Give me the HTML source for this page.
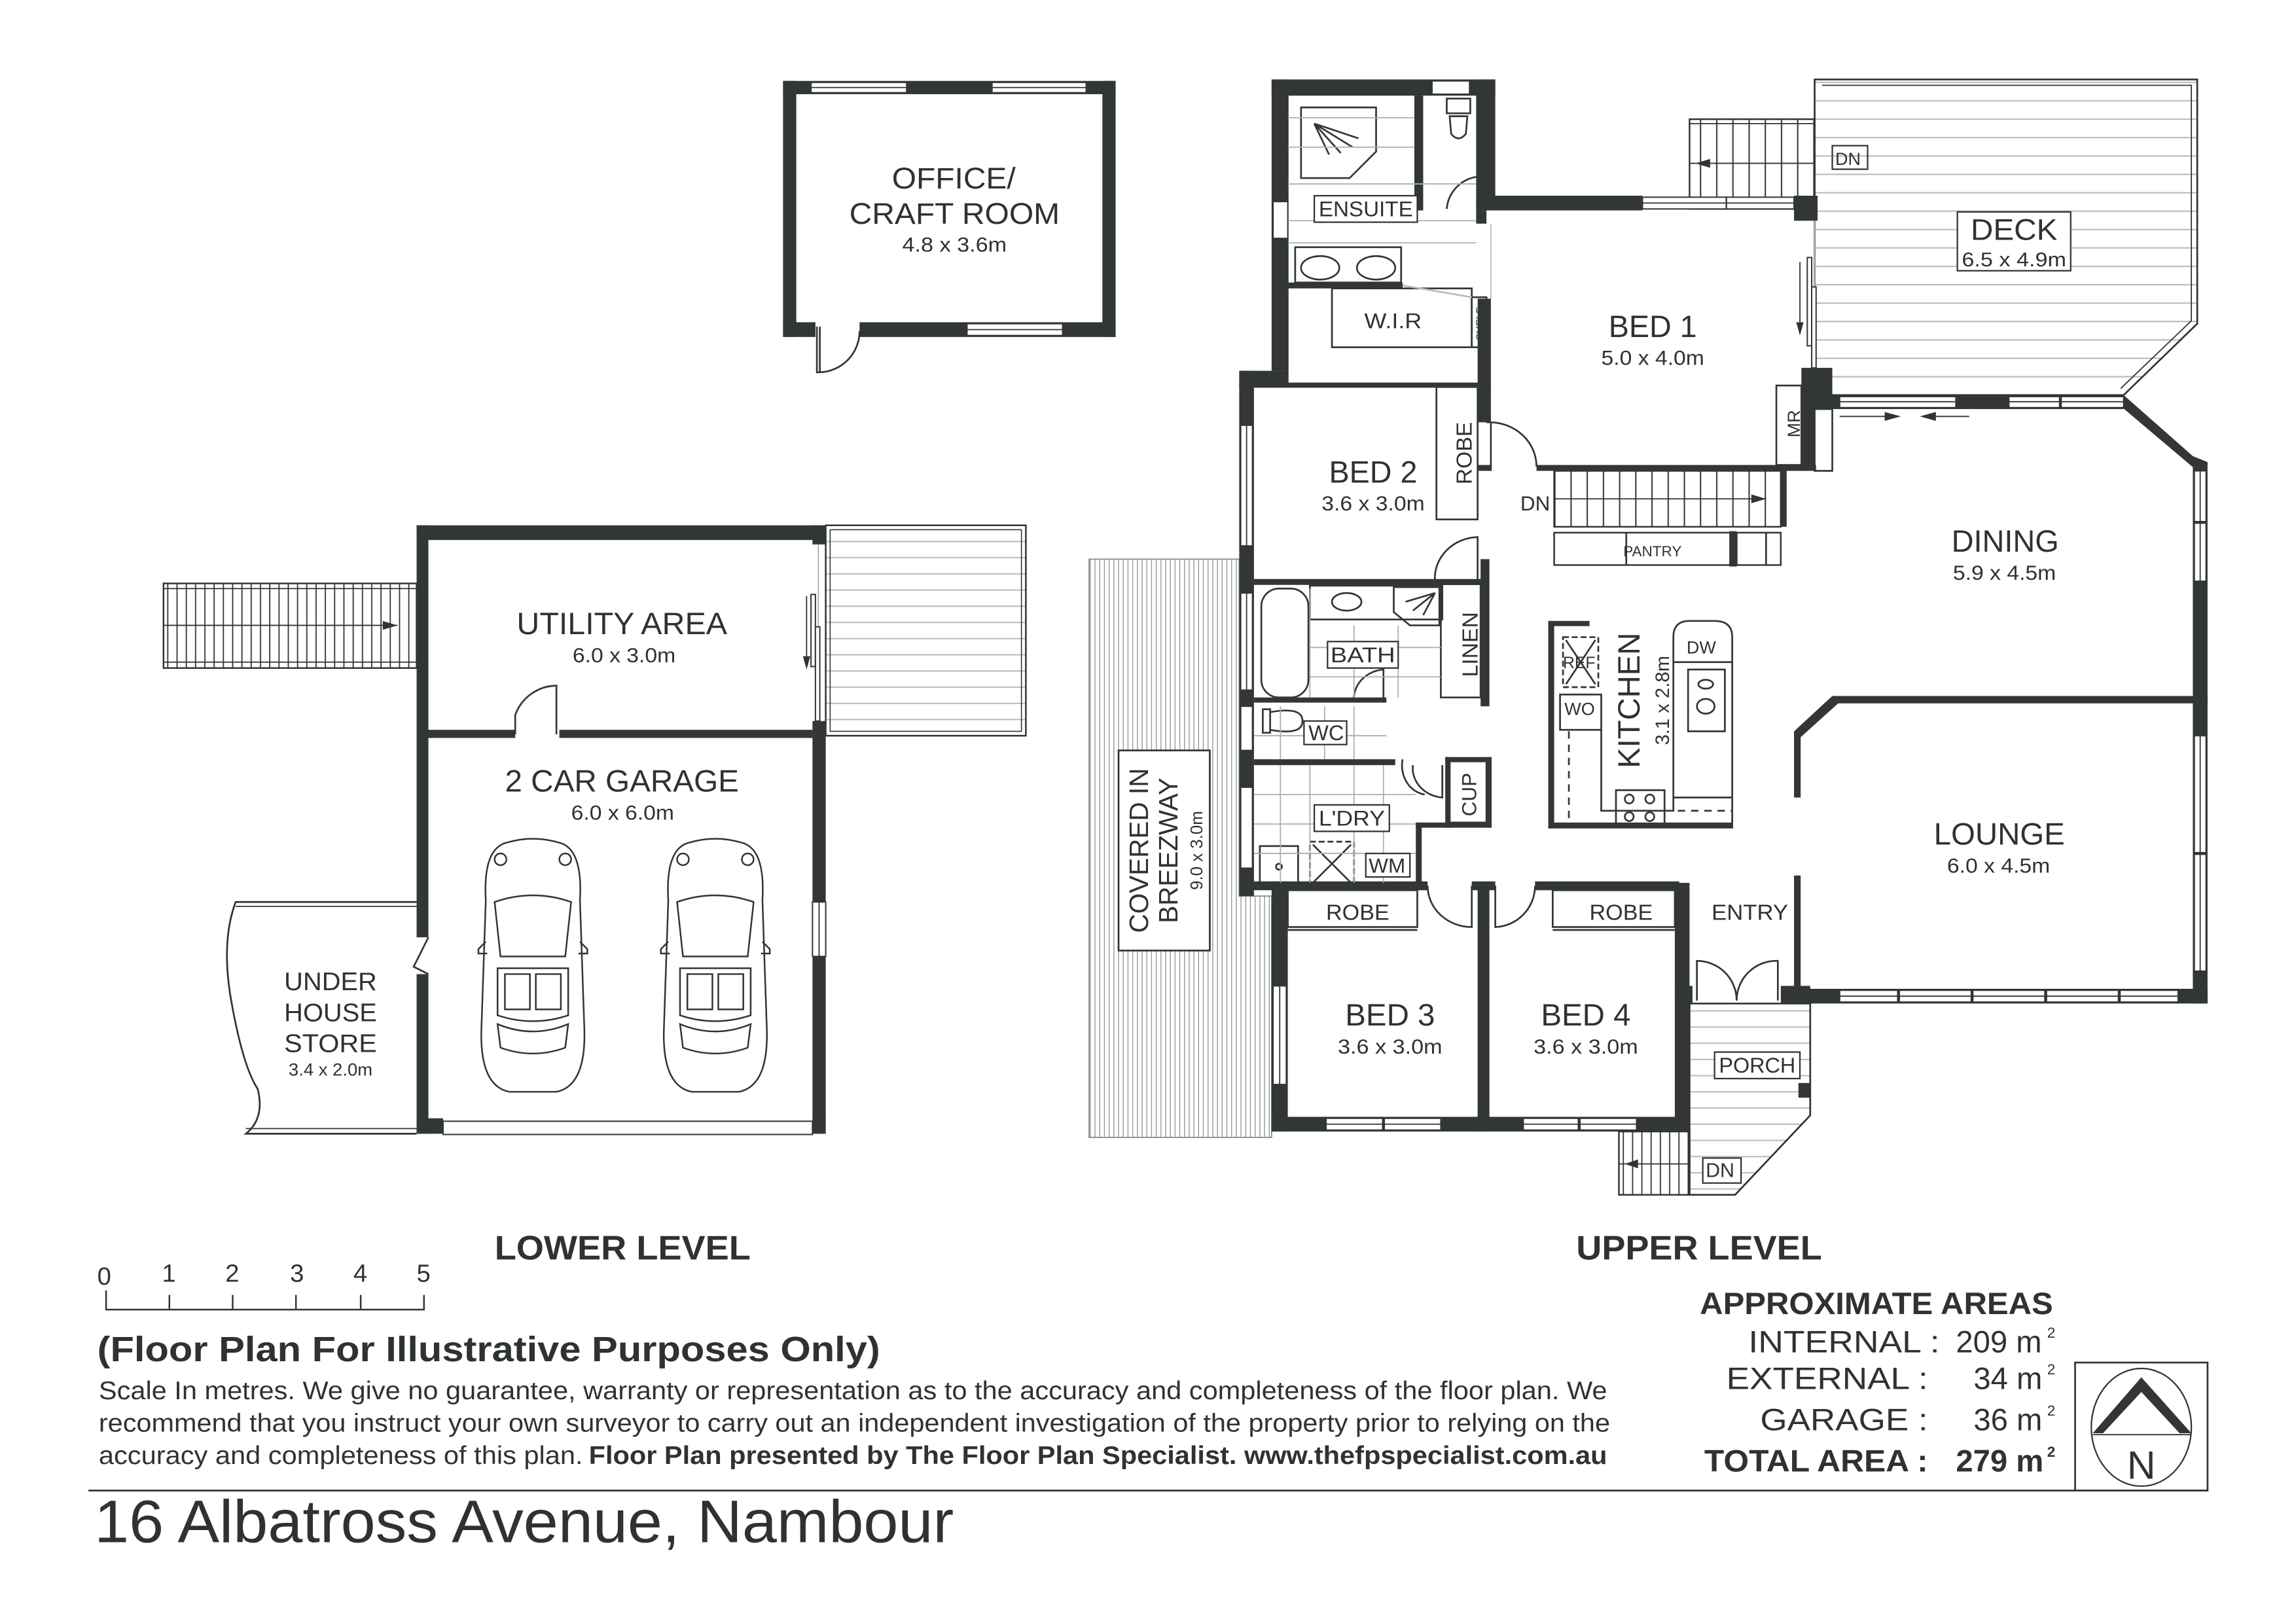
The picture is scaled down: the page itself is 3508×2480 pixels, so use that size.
<!DOCTYPE html>
<html><head><meta charset="utf-8"><style>
html,body{margin:0;padding:0;background:#fff}
svg{display:block}
text{font-family:"Liberation Sans",Arial,sans-serif;fill:#2f3233}
.k{fill:#333637}
.t{fill:none;stroke:#333637;stroke-width:1.2}
.g{fill:none;stroke:#aab0b0;stroke-width:0.8}
.win{fill:#fff;stroke:#333637;stroke-width:0.9}
</style></head><body>
<svg width="3508" height="2480" viewBox="0 0 1560 1103" xmlns="http://www.w3.org/2000/svg">
<defs>
<pattern id="hz" width="8" height="12.5" patternUnits="userSpaceOnUse"><line x1="0" y1="6" x2="8" y2="6" stroke="#b5bbbb" stroke-width="0.9"/></pattern>
<pattern id="hz2" width="8" height="11" patternUnits="userSpaceOnUse"><line x1="0" y1="5" x2="8" y2="5" stroke="#b5bbbb" stroke-width="0.9"/></pattern>
<pattern id="vt" width="3.2" height="8" patternUnits="userSpaceOnUse"><line x1="1.6" y1="0" x2="1.6" y2="8" stroke="#8f9696" stroke-width="0.6"/></pattern>
<pattern id="st" width="11" height="8" patternUnits="userSpaceOnUse"><line x1="0.5" y1="0" x2="0.5" y2="8" stroke="#333" stroke-width="0.9"/></pattern>
<pattern id="st6" width="6.3" height="8" patternUnits="userSpaceOnUse"><line x1="0.5" y1="0" x2="0.5" y2="8" stroke="#333" stroke-width="0.8"/></pattern>
</defs>
<rect width="1560" height="1103" fill="#fff"/>

<!-- ============ OFFICE ============ -->
<g class="k">
<rect x="532" y="55" width="226" height="9"/>
<rect x="532" y="55" width="9" height="174"/>
<rect x="749" y="55" width="9" height="174"/>
<rect x="532" y="219" width="22" height="10"/>
<rect x="584" y="219" width="174" height="10"/>
</g>
<rect x="551" y="56" width="65" height="7" class="win"/><line x1="551" y1="59.5" x2="616" y2="59.5" stroke="#333" stroke-width="0.8"/>
<rect x="674" y="56" width="64" height="7" class="win"/><line x1="674" y1="59.5" x2="738" y2="59.5" stroke="#333" stroke-width="0.8"/>
<rect x="657" y="220" width="65" height="8" class="win"/><line x1="657" y1="224" x2="722" y2="224" stroke="#333" stroke-width="0.8"/>
<path d="M555 222 L555 253 L557 253 L557 222 M557 253 A28 28 0 0 0 584 225" class="t"/>
<text x="606" y="128" font-size="20" textLength="84" lengthAdjust="spacingAndGlyphs">OFFICE/</text>
<text x="577" y="152" font-size="20" textLength="143" lengthAdjust="spacingAndGlyphs">CRAFT ROOM</text>
<text x="613" y="171" font-size="14" textLength="71" lengthAdjust="spacingAndGlyphs">4.8 x 3.6m</text>

<!-- ============ LOWER LEVEL ============ -->
<rect x="111" y="396.5" width="172" height="57.5" fill="url(#st6)" stroke="#333" stroke-width="1.1"/>
<line x1="111" y1="400" x2="283" y2="400" stroke="#333" stroke-width="0.8"/><line x1="111" y1="450" x2="283" y2="450" stroke="#333" stroke-width="0.8"/>
<line x1="111" y1="425" x2="270" y2="425" stroke="#333" stroke-width="0.8"/><path d="M270 425 l-10 -3 v6 z" fill="#333"/>
<rect x="561" y="357" width="136" height="143" fill="url(#hz2)" stroke="#333" stroke-width="1.1"/>
<rect x="564" y="360" width="130" height="137" fill="none" stroke="#333" stroke-width="0.7"/>
<g class="k">
<rect x="283" y="357" width="278" height="10"/>
<rect x="283" y="357" width="8" height="280"/>
<rect x="283" y="662" width="8" height="108.5"/>
<rect x="552" y="357" width="9" height="13"/>
<rect x="552" y="490" width="9" height="280.5"/>
<rect x="291" y="496" width="59" height="5.5"/>
<rect x="380" y="496" width="172" height="5.5"/>
<rect x="283" y="760" width="18" height="10.5"/>
<rect x="552" y="760" width="9" height="10.5"/>
</g>
<rect x="301" y="762" width="251" height="9" class="win"/>
<line x1="556" y1="370" x2="556" y2="490" stroke="#aaa" stroke-width="0.8"/>
<rect x="551" y="404" width="3" height="49" class="win"/><rect x="554" y="426" width="3" height="64" class="win"/>
<line x1="548" y1="405" x2="548" y2="452" stroke="#333" stroke-width="0.8"/><path d="M548 455 l-2.5 -9 h5 z" fill="#333"/>
<rect x="552" y="613" width="9" height="37" class="win"/><line x1="556.5" y1="613" x2="556.5" y2="650" stroke="#333" stroke-width="0.8"/>
<path d="M350 499 L350 486 A30 30 0 0 1 378 466 L378 499" class="t"/>
<path d="M291 637 L281 657 L291 662" class="t"/>
<path d="M283 613 L160 613 Q150 640 157 680 Q165 725 175 740 Q180 760 167 770.5 L283 770.5" fill="none" stroke="#333" stroke-width="1.2"/>
<line x1="160" y1="616" x2="283" y2="616" stroke="#333" stroke-width="0.8"/><line x1="167" y1="767" x2="283" y2="767" stroke="#333" stroke-width="0.8"/>
<text x="351" y="431" font-size="21" textLength="143" lengthAdjust="spacingAndGlyphs">UTILITY AREA</text>
<text x="389" y="450" font-size="14" textLength="70" lengthAdjust="spacingAndGlyphs">6.0 x 3.0m</text>
<text x="343" y="538" font-size="21" textLength="159" lengthAdjust="spacingAndGlyphs">2 CAR GARAGE</text>
<text x="388" y="557" font-size="14" textLength="70" lengthAdjust="spacingAndGlyphs">6.0 x 6.0m</text>
<text x="193" y="673" font-size="17.5" textLength="63" lengthAdjust="spacingAndGlyphs">UNDER</text>
<text x="193" y="694" font-size="17.5" textLength="63" lengthAdjust="spacingAndGlyphs">HOUSE</text>
<text x="193" y="715" font-size="17.5" textLength="63" lengthAdjust="spacingAndGlyphs">STORE</text>
<text x="196" y="731" font-size="12" textLength="57" lengthAdjust="spacingAndGlyphs">3.4 x 2.0m</text>
<!-- cars -->
<g id="car" fill="none" stroke="#333" stroke-width="1.1">
<path d="M330 612 Q328 578 343 573 Q362 567 381 573 Q396 578 394 612 L397 700 Q398 738 378 742 L346 742 Q326 738 327 700 Z"/>
<path d="M336 613 Q362 604 388 613 L384 650 L340 650 Z"/>
<path d="M338 658 L386 658 L386 690 Q362 698 338 690 Z"/>
<path d="M343 662 h17 v24 h-17 z M364 662 h17 v24 h-17 z"/>
<path d="M338 696 Q362 706 386 696 L384 712 Q362 720 340 712 Z"/>
<path d="M330 640 l-5 5 v3 h6 M394 640 l5 5 v3 h-6"/>
<circle cx="340" cy="584" r="4"/><circle cx="384" cy="584" r="4"/>
</g>
<use href="#car" x="124"/>

<!-- ============ UPPER LEVEL ============ -->
<!-- breezeway -->
<path d="M740 380 L842 380 L842 609 L864 609 L864 773 L740 773 Z" fill="url(#vt)" stroke="#888" stroke-width="0.8"/>
<rect x="760" y="510" width="62" height="136" fill="#fff" stroke="#333" stroke-width="1.2"/>
<text transform="translate(780,578) rotate(-90)" font-size="18" text-anchor="middle">COVERED IN</text>
<text transform="translate(800,578) rotate(-90)" font-size="18" text-anchor="middle">BREEZWAY</text>
<text transform="translate(817,578) rotate(-90)" font-size="11.5" text-anchor="middle">9.0 x 3.0m</text>

<!-- deck -->
<path d="M1233 54 L1493 54 L1493 220 L1443 268.5 L1233 268.5 Z" fill="url(#hz)" stroke="#333" stroke-width="1.2"/>
<path d="M1238 58 L1489 58 L1489 218 L1441 264" fill="none" stroke="#333" stroke-width="0.8"/>
<rect x="1148" y="81" width="85" height="61" fill="url(#st)" stroke="#333" stroke-width="1.1"/>
<line x1="1148" y1="84" x2="1233" y2="84" stroke="#333" stroke-width="0.8"/>
<line x1="1148" y1="111" x2="1233" y2="111" stroke="#333" stroke-width="0.8"/><path d="M1152 111 l10 -3 v6 z" fill="#333"/>
<text x="1247" y="112" font-size="12">DN</text><rect x="1245" y="99" width="24" height="16" fill="none" stroke="#333"/>
<rect x="1330" y="144" width="77" height="40" fill="#fff" stroke="#333"/>
<text x="1339" y="163" font-size="20" textLength="59" lengthAdjust="spacingAndGlyphs">DECK</text>
<text x="1333" y="181" font-size="13.5" textLength="71" lengthAdjust="spacingAndGlyphs">6.5 x 4.9m</text>

<!-- stairs DN from hall -->
<rect x="1056" y="320" width="154" height="38" fill="url(#st)" stroke="#333" stroke-width="1.1"/>
<line x1="1056" y1="339" x2="1200" y2="339" stroke="#333" stroke-width="0.8"/><path d="M1200 339 l-10 -3 v6 z" fill="#333"/>
<rect x="1056" y="362" width="154" height="22" fill="#fff" stroke="#333" stroke-width="1.1"/>
<path d="M1105 362 v22 M1180 362 v22 M1200 362 v22" class="t"/>
<rect x="1175" y="361" width="5" height="24" class="k"/>

<!-- walls -->
<g class="k">
<!-- ensuite -->
<rect x="864" y="54" width="152" height="11"/>
<rect x="864" y="54" width="11.5" height="198"/>
<rect x="1003" y="54" width="13" height="89"/>
<rect x="961" y="65" width="6" height="78"/>
<rect x="875" y="192" width="78" height="4"/>
<!-- bed1 -->
<rect x="1003" y="133" width="113" height="10"/>
<rect x="1219" y="133" width="16" height="17"/>
<rect x="1003" y="143" width="7" height="9"/>
<rect x="1004" y="203" width="9" height="84"/>
<rect x="1004" y="316" width="9" height="4"/>
<rect x="1044" y="316" width="190" height="4"/>
<rect x="1224" y="250" width="21" height="28"/>
<rect x="1224" y="268" width="9" height="49"/>
<rect x="1210" y="320" width="4" height="38"/>
<!-- bed2 -->
<rect x="842" y="252" width="33.5" height="11"/>
<rect x="842" y="260" width="171" height="3.5"/>
<rect x="842" y="252" width="10" height="357"/>
<rect x="842" y="393.5" width="166" height="4"/>
<rect x="1006" y="380" width="6" height="100"/>
<!-- bath/wc/ldry -->
<rect x="852" y="474" width="90" height="3.5"/>
<rect x="852" y="516" width="96" height="4"/>
<rect x="962" y="559" width="23" height="3.5"/>
<rect x="962" y="559" width="4" height="42"/>
<rect x="982" y="514.5" width="31" height="3.5"/>
<rect x="1010" y="514.5" width="3.5" height="48"/>
<rect x="982" y="559" width="31" height="3.5"/>
<rect x="982" y="514.5" width="3.5" height="48"/>
<!-- bed3/4 -->
<rect x="842" y="599" width="128" height="6"/>
<rect x="1000" y="599" width="16" height="6"/>
<rect x="1043" y="599" width="98" height="6"/>
<rect x="864" y="599" width="11" height="170"/>
<rect x="864" y="759" width="284" height="10"/>
<rect x="1004" y="600" width="8" height="169"/>
<rect x="1138" y="600" width="10" height="169"/>
<rect x="1138" y="670" width="12" height="12"/>
<rect x="1210" y="670" width="20" height="12"/>
<!-- lounge/dining -->
<rect x="1219" y="497" width="4.5" height="45"/>
<rect x="1219" y="595" width="4.5" height="87"/>
<rect x="1245" y="473" width="255" height="5"/>
<rect x="1490" y="314" width="10" height="368"/>
<rect x="1219" y="672" width="281" height="10"/>
<rect x="1233" y="268.5" width="210" height="9.5"/>
<!-- kitchen -->
<rect x="1052" y="422" width="4" height="141"/>
<rect x="1052" y="422" width="28" height="3.5"/>
<rect x="1052" y="559" width="125" height="4"/>
</g>
<path d="M1219 497 L1245 473 L1249 478 L1223.5 501 Z" class="k"/>
<path d="M1443 268.5 L1490 310 L1500 314 L1493 320 L1441 276 Z" class="k"/>
<!-- windows -->
<g>
<rect x="973" y="55" width="25.5" height="9" class="win"/>
<rect x="1116" y="134" width="103" height="8" class="win"/><line x1="1116" y1="138" x2="1219" y2="138" stroke="#333" stroke-width="0.8"/><line x1="1173" y1="134" x2="1173" y2="142" stroke="#333"/>
<rect x="865" y="137" width="10" height="25" class="win"/>
<rect x="843" y="289" width="8" height="82" class="win"/><line x1="847" y1="289" x2="847" y2="371" stroke="#333" stroke-width="0.8"/>
<rect x="843" y="403" width="8" height="66" class="win"/><line x1="847" y1="403" x2="847" y2="469" stroke="#333" stroke-width="0.8"/>
<rect x="843" y="480" width="8" height="30" class="win"/>
<rect x="843" y="535" width="8" height="55" class="win"/>
<rect x="865" y="670" width="9" height="67" class="win"/><line x1="869.5" y1="670" x2="869.5" y2="737" stroke="#333" stroke-width="0.8"/>
<rect x="901" y="760" width="78" height="8" class="win"/><line x1="901" y1="764" x2="979" y2="764" stroke="#333" stroke-width="0.8"/><line x1="940" y1="760" x2="940" y2="768" stroke="#333" stroke-width="2"/>
<rect x="1035" y="760" width="77" height="8" class="win"/><line x1="1035" y1="764" x2="1112" y2="764" stroke="#333" stroke-width="0.8"/><line x1="1073" y1="760" x2="1073" y2="768" stroke="#333" stroke-width="2"/>
<rect x="1250" y="269.5" width="79" height="7.5" class="win"/><line x1="1250" y1="273" x2="1329" y2="273" stroke="#333" stroke-width="0.8"/>
<rect x="1365" y="269.5" width="78" height="7.5" class="win"/><line x1="1365" y1="273" x2="1443" y2="273" stroke="#333" stroke-width="0.8"/><line x1="1400" y1="269" x2="1400" y2="278" stroke="#333" stroke-width="2"/>
<rect x="1491" y="320" width="8" height="75" class="win"/><line x1="1495" y1="320" x2="1495" y2="395" stroke="#333" stroke-width="0.8"/><line x1="1491" y1="355" x2="1499" y2="355" stroke="#333" stroke-width="2"/>
<rect x="1491" y="500" width="8" height="160" class="win"/><line x1="1495" y1="500" x2="1495" y2="660" stroke="#333" stroke-width="0.8"/><line x1="1491" y1="580" x2="1499" y2="580" stroke="#333" stroke-width="2"/>
<rect x="1250" y="673" width="230" height="8" class="win"/><line x1="1250" y1="677" x2="1480" y2="677" stroke="#333" stroke-width="0.8"/>
<path d="M1290 673 v8 M1340 673 v8 M1390 673 v8 M1440 673 v8" stroke="#333" stroke-width="2"/>
<line x1="1233" y1="150" x2="1233" y2="250" stroke="#bbb" stroke-width="0.8"/>
<rect x="1228" y="175" width="3" height="60" class="win"/><rect x="1231" y="195" width="3" height="55" class="win"/>
<line x1="1223" y1="178" x2="1223" y2="225" stroke="#333" stroke-width="0.8"/><path d="M1223 228 l-2.5 -9 h5 z" fill="#333"/>
<path d="M1250 283 h40 M1290 283 l-9 -2.5 v5 z M1338 283 h-32 M1306 283 l9 -2.5 v5 z" stroke="#333" stroke-width="0.8" fill="#333"/>
<line x1="1013" y1="152" x2="1013" y2="203" stroke="#bbb" stroke-width="0.8"/>
</g>
<!-- porch -->
<path d="M1148 682 L1230 682 L1230 758 L1179 812 L1148 812 Z" fill="url(#hz2)" stroke="#333" stroke-width="1.2"/>
<rect x="1222" y="736" width="8" height="10" class="k"/>
<rect x="1100" y="769" width="48" height="43" fill="url(#st6)" stroke="#333" stroke-width="1.1"/>
<line x1="1100" y1="791" x2="1148" y2="791" stroke="#333" stroke-width="0.8"/><path d="M1104 791 l9 -3 v6 z" fill="#333"/>
<rect x="1157" y="787" width="26" height="17" fill="#fff" stroke="#333"/>
<text x="1159" y="800" font-size="13.5">DN</text>
<rect x="1165" y="715" width="58" height="18" fill="#fff" stroke="#333"/>
<text x="1168" y="729" font-size="14.5" textLength="52" lengthAdjust="spacingAndGlyphs">PORCH</text>

<!-- fixtures -->
<g class="t">
<path d="M1010 287 L1013 287 L1013 320 M1013 287 A32 30 0 0 1 1044 317"/>
<path d="M975 395 A30 28 0 0 1 1004 365 L1004 395"/>
<path d="M970 602 A30 28 0 0 0 1000 630 L1000 602"/>
<path d="M1043 602 A28 28 0 0 1 1016 630 L1016 602"/>
<path d="M1153 680 L1153 653 A27 27 0 0 1 1180 680 M1208 680 L1208 653 A27 27 0 0 0 1180 680"/>
<path d="M983 142 A24 24 0 0 1 1005 120 L1005 142"/>
<path d="M920 477 A22 20 0 0 1 940 455 L940 477"/>
<path d="M953 516 A18 20 0 0 0 968 540"/>
<path d="M960 520 A22 20 0 0 0 980 542 L980 520"/>
<path d="M884 73 L935 73 L935 103 L917 121 L884 121 Z" />
<path d="M893 84 l30 10 M893 84 l26 16 M893 84 l18 20 M893 84 l10 21"/>
<rect x="983" y="67" width="16" height="10"/><path d="M985 79 h12 l-1 12 q-5 6 -10 0 z"/>
<rect x="880" y="168" width="72" height="24"/>
<ellipse cx="897" cy="182" rx="13" ry="8"/><ellipse cx="935" cy="182" rx="13" ry="8"/>
<rect x="905" y="196" width="95" height="40"/><rect x="1000" y="202" width="10" height="34"/>
<line x1="953" y1="194" x2="1000" y2="202" stroke="#bbb"/>
<rect x="976" y="263" width="28" height="90"/>
<rect x="979" y="397" width="27" height="77"/>
<rect x="857" y="400" width="32" height="74" rx="12"/>
<rect x="890" y="398" width="90" height="23"/>
<ellipse cx="915" cy="409" rx="10" ry="6"/>
<path d="M947 399 L978 399 L978 425 L958 425 L947 416 Z"/>
<path d="M975 403 l-20 6 M975 403 l-15 12 M975 403 l-8 15"/>
<path d="M858 482 h5 v16 h-5 z M863 484 q22 -4 22 6 q0 10 -22 6 z"/>
<rect x="985" y="517" width="25" height="42"/>
<rect x="856" y="575" width="26" height="28"/><circle cx="869" cy="589" r="2"/>
<rect x="890" y="572" width="30" height="30" stroke-dasharray="4 2"/><path d="M892 574 l26 26 M918 574 l-26 26"/>
<rect x="875" y="605" width="88" height="25"/><line x1="875" y1="632" x2="963" y2="632"/>
<rect x="1055" y="605" width="83" height="25"/><line x1="1055" y1="632" x2="1138" y2="632"/>
<rect x="1062" y="433" width="24" height="34" stroke-dasharray="4 2"/><path d="M1064 435 l20 30 M1084 435 l-20 30"/>
<rect x="1060" y="472" width="28" height="24"/>
<path d="M1088 496 L1088 551 L1137 551 L1137 433 Q1137 422 1148 422 L1165 422 Q1177 422 1177 433 L1177 563"/>
<path d="M1137 450 L1177 450 M1137 542 L1177 542"/>
<rect x="1147" y="455" width="25" height="42"/>
<ellipse cx="1159" cy="465" rx="5" ry="3"/><ellipse cx="1159" cy="480" rx="6" ry="5"/>
<rect x="1098" y="537" width="33" height="24"/>
<circle cx="1107" cy="543" r="3"/><circle cx="1121" cy="543" r="3"/><circle cx="1107" cy="555" r="3"/><circle cx="1121" cy="555" r="3"/>
<path d="M1066 497 L1066 560 M1140 551 L1177 551" stroke-dasharray="5 4"/>
<rect x="1207" y="262" width="17" height="54"/>
<rect x="1233" y="278" width="12" height="42"/>
</g>
<!-- tile grid hints -->
<g class="g">
<path d="M875 80 H961 M875 100 H961 M875 125 H1003 M875 150 H1003 M875 165 H1003"/>
<path d="M890 400 V474 M920 425 V474 M950 425 V474 M890 440 H979 M890 460 H979"/>
<path d="M870 480 V516 M900 480 V516 M920 480 V516 M852 500 H942"/>
<path d="M870 520 V600 M890 520 V600 M920 520 V600 M940 520 V600 M852 540 H962 M852 560 H962 M852 580 H962"/>
</g>
<!-- labels -->
<rect x="893" y="133" width="70" height="18" fill="#fff" stroke="#333"/>
<text x="896" y="147" font-size="14.5" textLength="64" lengthAdjust="spacingAndGlyphs">ENSUITE</text>
<text x="927" y="223" font-size="14.5" textLength="39" lengthAdjust="spacingAndGlyphs">W.I.R</text>
<text transform="translate(1008,220) rotate(-90)" font-size="7" text-anchor="middle">SHELF</text>
<text x="1093" y="229" font-size="21" textLength="60" lengthAdjust="spacingAndGlyphs">BED 1</text>
<text x="1088" y="248" font-size="14" textLength="70" lengthAdjust="spacingAndGlyphs">5.0 x 4.0m</text>
<text transform="translate(1223,288) rotate(-90)" font-size="12" text-anchor="middle">MR</text>
<text x="903" y="328" font-size="21" textLength="60" lengthAdjust="spacingAndGlyphs">BED 2</text>
<text x="898" y="347" font-size="14" textLength="70" lengthAdjust="spacingAndGlyphs">3.6 x 3.0m</text>
<text transform="translate(995,308) rotate(-90)" font-size="15" text-anchor="middle" dy="5">ROBE</text>
<text x="1033" y="347" font-size="14">DN</text>
<text x="1103" y="378" font-size="10">PANTRY</text>
<text x="1326" y="375" font-size="21" textLength="73" lengthAdjust="spacingAndGlyphs">DINING</text>
<text x="1327" y="394" font-size="14" textLength="70" lengthAdjust="spacingAndGlyphs">5.9 x 4.5m</text>
<rect x="902" y="436" width="48" height="18" fill="#fff" stroke="#333"/>
<text x="904" y="450" font-size="14.5" textLength="44" lengthAdjust="spacingAndGlyphs">BATH</text>
<text transform="translate(1000,438) rotate(-90)" font-size="15" text-anchor="middle" dy="4">LINEN</text>
<text transform="translate(1114,476) rotate(-90)" font-size="21" text-anchor="middle">KITCHEN</text>
<text transform="translate(1134,476) rotate(-90)" font-size="13" text-anchor="middle">3.1 x 2.8m</text>
<text x="1146" y="444" font-size="12">DW</text>
<text x="1062" y="454" font-size="11">REF</text>
<text x="1063" y="486" font-size="12">WO</text>
<rect x="886" y="490" width="29" height="16" fill="#fff" stroke="#333"/>
<text x="889" y="503" font-size="14.5">WC</text>
<text transform="translate(1003,540) rotate(-90)" font-size="14" text-anchor="middle">CUP</text>
<rect x="893" y="547" width="51" height="18" fill="#fff" stroke="#333"/>
<text x="896" y="561" font-size="14.5" textLength="45" lengthAdjust="spacingAndGlyphs">L'DRY</text>
<rect x="928" y="580" width="30" height="16" fill="#fff" stroke="#333"/>
<text x="930" y="593" font-size="14">WM</text>
<text x="901" y="625" font-size="15" textLength="43" lengthAdjust="spacingAndGlyphs">ROBE</text>
<text x="1080" y="625" font-size="15" textLength="43" lengthAdjust="spacingAndGlyphs">ROBE</text>
<text x="1163" y="625" font-size="15" textLength="52" lengthAdjust="spacingAndGlyphs">ENTRY</text>
<text x="1314" y="574" font-size="21" textLength="89" lengthAdjust="spacingAndGlyphs">LOUNGE</text>
<text x="1323" y="593" font-size="14" textLength="70" lengthAdjust="spacingAndGlyphs">6.0 x 4.5m</text>
<text x="914" y="697" font-size="21" textLength="61" lengthAdjust="spacingAndGlyphs">BED 3</text>
<text x="909" y="716" font-size="14" textLength="71" lengthAdjust="spacingAndGlyphs">3.6 x 3.0m</text>
<text x="1047" y="697" font-size="21" textLength="61" lengthAdjust="spacingAndGlyphs">BED 4</text>
<text x="1042" y="716" font-size="14" textLength="71" lengthAdjust="spacingAndGlyphs">3.6 x 3.0m</text>

<text x="336" y="856" font-size="23" font-weight="bold" textLength="174" lengthAdjust="spacingAndGlyphs">LOWER LEVEL</text>
<text x="1071" y="856" font-size="23" font-weight="bold" textLength="167" lengthAdjust="spacingAndGlyphs">UPPER LEVEL</text>

<!-- scale -->
<g font-size="17"><text x="66" y="873">0</text><text x="110" y="871">1</text><text x="153" y="871">2</text><text x="197" y="871">3</text><text x="240" y="871">4</text><text x="283" y="871">5</text></g>
<path d="M72 877 V890 H288 V880 M115 880 V890 M158 880 V890 M201 880 V890 M245 880 V890" fill="none" stroke="#333" stroke-width="1.1"/>
<text x="66" y="925" font-size="24" font-weight="bold" textLength="532" lengthAdjust="spacingAndGlyphs">(Floor Plan For Illustrative Purposes Only)</text>
<text x="67" y="951" font-size="17.5" textLength="1025" lengthAdjust="spacingAndGlyphs">Scale In metres. We give no guarantee, warranty or representation as to the accuracy and completeness of the floor plan. We</text>
<text x="67" y="973" font-size="17.5" textLength="1027" lengthAdjust="spacingAndGlyphs">recommend that you instruct your own surveyor to carry out an independent investigation of the property prior to relying on the</text>
<text x="67" y="995" font-size="17.5" textLength="329" lengthAdjust="spacingAndGlyphs">accuracy and completeness of this plan.</text>
<text x="400" y="995" font-size="17.5" font-weight="bold" textLength="692" lengthAdjust="spacingAndGlyphs">Floor Plan presented by The Floor Plan Specialist. www.thefpspecialist.com.au</text>
<line x1="60" y1="1013" x2="1500" y2="1013" stroke="#333" stroke-width="1.2"/>
<text x="64" y="1048" font-size="41" textLength="584" lengthAdjust="spacingAndGlyphs">16 Albatross Avenue, Nambour</text>

<text x="1155" y="893" font-size="21" font-weight="bold" textLength="240" lengthAdjust="spacingAndGlyphs">APPROXIMATE AREAS</text>
<g font-size="21">
<text x="1188" y="919" textLength="130" lengthAdjust="spacingAndGlyphs">INTERNAL :</text>
<text x="1173" y="944" textLength="137" lengthAdjust="spacingAndGlyphs">EXTERNAL  :</text>
<text x="1196" y="972" textLength="114" lengthAdjust="spacingAndGlyphs">GARAGE  :</text>
<text x="1158" y="1000" font-weight="bold" textLength="152" lengthAdjust="spacingAndGlyphs">TOTAL AREA :</text>
<text x="1329" y="919">209 m</text><text x="1391" y="909" font-size="10">2</text>
<text x="1341" y="944">34 m</text><text x="1391" y="934" font-size="10">2</text>
<text x="1341" y="972">36 m</text><text x="1391" y="962" font-size="10">2</text>
<text x="1329" y="1000" font-weight="bold">279 m</text><text x="1391" y="990" font-size="10" font-weight="bold">2</text>
</g>
<rect x="1410" y="926" width="90" height="87" fill="none" stroke="#333" stroke-width="1.2"/>
<ellipse cx="1455" cy="970" rx="34" ry="40" fill="none" stroke="#333" stroke-width="1"/>
<path d="M1422 974 L1455 936 L1489 974 L1481 974 L1455 946 L1429 974 Z" fill="#333637"/>
<line x1="1422" y1="975" x2="1489" y2="975" stroke="#333" stroke-width="0.8"/>
<text x="1455" y="1005" font-size="27" font-family="Liberation Serif" text-anchor="middle">N</text>
</svg>
</body></html>
